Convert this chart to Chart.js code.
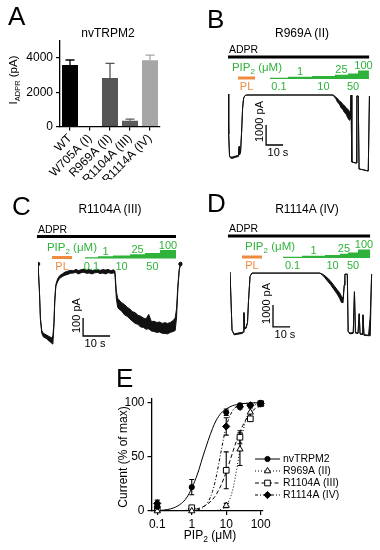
<!DOCTYPE html>
<html><head><meta charset="utf-8">
<script src="https://cdn.jsdelivr.net/npm/chart.js@4.4.0/dist/chart.umd.min.js"></script>
<style>
body{margin:0;background:#fff;width:380px;height:550px;position:relative;overflow:hidden;font-family:"Liberation Sans",Arial,sans-serif}
canvas{position:absolute}
.lt{position:absolute;font-size:26px;line-height:26px;color:#000;z-index:2}
.tt{position:absolute;font-size:12px;line-height:12px;color:#000;text-align:center;width:120px;z-index:2}
</style></head><body>
<div class="lt" style="left:8px;top:3px">A</div>
<div class="lt" style="left:207px;top:6px">B</div>
<div class="lt" style="left:12px;top:193px">C</div>
<div class="lt" style="left:207px;top:190px">D</div>
<div class="lt" style="left:116px;top:365px">E</div>
<div class="tt" style="left:48px;top:27px">nvTRPM2</div>
<div class="tt" style="left:242px;top:27px">R969A (II)</div>
<div class="tt" style="left:50px;top:203px">R1104A (III)</div>
<div class="tt" style="left:247px;top:203px">R1114A (IV)</div>
<canvas id="cA" width="190" height="180" style="left:0;top:0"></canvas>
<canvas id="cB" width="190" height="180" style="left:190px;top:0"></canvas>
<canvas id="cC" width="190" height="180" style="left:0;top:180px"></canvas>
<canvas id="cD" width="190" height="180" style="left:190px;top:180px"></canvas>
<canvas id="cE" width="320" height="190" style="left:60px;top:360px"></canvas>
<script>
// ---- panel A: ADPR current per construct ----
const mutants = ['WT', 'W705A (I)', 'R969A (II)', 'R1104A (III)', 'R1114A (IV)'];
const adprMean = [3600, 0, 2830, 330, 3880];
const adprSem = [290, 0, 860, 100, 290];

// ---- traces: time (s), current upper/lower edge of noise (pA) ----
const bTime = [0, 0.4, 0.9, 1.5, 2.5, 3.5, 4.5, 5.5, 6.2, 6.5, 6.8, 7.4, 8.0, 8.6, 9.2, 10, 11, 20, 30, 40, 50, 61.8, 62.5, 63.5, 64.5, 65.5, 66.5, 67.5, 68.5, 69.5, 70.5, 71.5, 72.0, 72.4, 72.8, 75.3, 75.8, 76.6, 77.1, 79, 82.5, 83.2];
const bHi = [0, -2000, -3100, -3150, -3150, -3130, -3100, -3080, -3060, -2620, -3000, -2850, -1900, -700, -200, -80, -50, -50, -50, -50, -50, -50, -80, -170, -230, -350, -400, -520, -580, -700, -760, -880, -1000, -60, -3400, -3450, -100, -100, -3750, -3780, -3850, -100];
const bLo = [0, -2000, -3100, -3200, -3220, -3190, -3160, -3140, -3120, -2660, -3050, -2900, -1900, -700, -200, -80, -50, -50, -50, -50, -50, -50, -140, -240, -420, -500, -690, -760, -930, -1010, -1200, -1320, -1250, -60, -3400, -3450, -100, -100, -3750, -3780, -3850, -100];

const cTime = [0, 0.5, 0.9, 1.4, 2, 2.6, 3.2, 3.8, 4.4, 5.0, 5.5, 5.9, 6.2, 6.6, 7.2, 8, 9, 10, 11,
  12, 13, 14, 15, 16, 17, 18, 19, 20, 21, 22, 23, 24, 25, 26, 27, 28, 28.5, 29, 29.5,
  30, 31, 32, 33, 34, 35, 36, 37, 38, 39, 40, 41, 42, 43, 44, 45, 46, 47, 48, 49, 50,
  50.8, 51.3, 51.8, 52.3, 52.8];
const cHi = [0, -140, -300, -370, -385, -390, -395, -400, -405, -410, -400, -330, -200, -115, -85, -65, -55, -45, -40,
  -35, -38, -30, -36, -32, -28, -35, -30, -38, -33, -29, -36, -31, -34, -30, -37, -32, -40, -150, -190,
  -200, -215, -225, -240, -250, -265, -270, -285, -290, -300, -305, -280, -320, -318, -325, -322, -330, -326, -330, -325, -315,
  -300, -250, -120, -30, 0];
const cLo = [0, -140, -310, -385, -405, -410, -415, -425, -430, -440, -445, -345, -215, -125, -100, -80, -70, -62, -58,
  -52, -50, -47, -55, -48, -46, -52, -50, -55, -49, -47, -53, -50, -55, -48, -52, -50, -55, -190, -240,
  -250, -262, -282, -290, -305, -318, -330, -335, -350, -352, -362, -360, -372, -375, -380, -378, -385, -386, -388, -380, -375,
  -370, -300, -140, -35, 0];

const dTime = [0, 0.6, 1.2, 2.4, 4.7, 7.1, 7.9, 8.2, 8.6, 9.5, 10.3, 10.9, 11.8, 12.9, 30, 52.9, 55, 57, 59, 61, 63, 64.5, 65.5, 66.5, 67.2, 67.6, 69, 69.5, 70.5, 72.5, 73.2, 73.8, 75.3, 76.0, 76.5, 77.7, 78.2, 78.8, 81.5, 82.5, 83.3];
const dHi = [0, -1300, -2650, -2820, -2780, -2750, -2700, -1850, -2550, -2500, -2300, -1300, -200, -50, -50, -50, -120, -250, -400, -600, -800, -950, -1100, -1200, -600, -100, -100, -2700, -2780, -2750, -900, -2750, -2780, -1900, -2800, -2820, -1950, -2850, -2880, -2000, -100];
const dLo = [0, -1300, -2650, -2860, -2830, -2800, -2750, -1850, -2600, -2560, -2300, -1300, -200, -50, -50, -50, -180, -380, -560, -780, -1000, -1200, -1380, -1400, -600, -100, -100, -2700, -2820, -2790, -900, -2780, -2800, -1900, -2830, -2850, -1950, -2880, -2900, -2900, -100];

// application times (s): ADPR on/off, PL on/off, PIP2 step edges
const pipSteps = ['0.1', '1', '10', '25', '50', '100'];
const bAdpr = [0, 83], bPL = [5.9, 15.9], bPip = [24.7, 35.3, 49.4, 62.9, 70.6, 76.5, 82.9];
const cAdpr = [-0.4, 51.1], cPL = [5.2, 12.6], cPip = [17.4, 22.2, 27.8, 34.1, 39.6, 45.2, 51.1];
const dAdpr = [-1.2, 82.4], dPL = [7.1, 18.8], dPip = [31.2, 42.4, 55.9, 64.7, 69.4, 75.3, 82.4];

// ---- panel E: dose response (% of max) ----
const pipConc = [0.1, 1, 10, 25, 50, 100];
const wtMean = [4, 22, 91, 97.5, 97.5, 99.5], wtSem = [2, 7, 3, 1, 1, 0.5];
const r969Mean = [0, 0, 5, 57, 91, 99], r969Sem = [0, 0, 2, 15, 4, 1];
const r1104Mean = [2, 3, 37.5, 68, 85, 99], r1104Sem = [1, 1, 17, 6, 2, 1];
const r1114Mean = [7, 2, 78, 96, 97.5, 99], r1114Sem = [3, 1, 8, 2, 1, 1];
const fitConc = [0.1, 0.15, 0.2, 0.3, 0.5, 0.7, 1, 1.5, 2, 3, 4, 5, 7, 10, 15, 20, 25, 30, 40, 50, 70, 100];
const wtFit = [0.4, 0.8, 1.4, 2.9, 7, 12, 21, 35, 48, 65, 76, 83, 90, 94, 97, 98, 98.5, 99, 99.3, 99.5, 99.7, 99.8];
const r969Fit = [0, 0, 0, 0, 0, 0, 0, 0, 0, 0, 0.2, 0.5, 1.5, 5, 18, 38, 57, 72, 87, 94, 98, 99.4];
const r1104Fit = [0, 0, 0.1, 0.2, 0.3, 0.6, 1.1, 2.2, 3.5, 6.8, 10.6, 14.6, 23.5, 36, 53, 65, 73, 78.6, 86, 90, 94.5, 96.6];
const r1114Fit = [0, 0, 0, 0, 0, 0.1, 0.3, 1.2, 2.7, 8.6, 18, 30, 54, 78, 92, 96.5, 98, 99, 99.5, 99.7, 99.9, 100];

const FONT = '"Liberation Sans", Arial, sans-serif';
const GREEN = '#2eb23a', ORANGE = '#ef8a3f';
Chart.defaults.font.family = FONT;
Chart.defaults.color = '#000';

function drawSub(ctx, parts, x, y, align) {
  let w = 0;
  parts.forEach(p => { ctx.font = p[1] + 'px ' + FONT; p.w = ctx.measureText(p[0]).width; w += p.w; });
  let cx = align === 'right' ? x - w : align === 'center' ? x - w / 2 : x;
  ctx.textAlign = 'left';
  parts.forEach(p => { ctx.font = p[1] + 'px ' + FONT; ctx.fillText(p[0], cx, y + p[2]); cx += p.w; });
}

const axisGrid = {drawOnChartArea: false, tickLength: 4, color: '#000', lineWidth: 1.2};
const axisBorder = {color: '#000', width: 1.3};

// panel A
const barColors = ['#000', '#000', '#555', '#5c5c5c', '#a6a6a6'];
new Chart(document.getElementById('cA'), {
  type: 'bar',
  data: {labels: mutants, datasets: [{data: adprMean, errors: adprSem, backgroundColor: barColors, barPercentage: 0.8, categoryPercentage: 1}]},
  options: {
    responsive: false, animation: false, events: [],
    layout: {padding: {left: 0, right: 30, top: 41, bottom: 0}},
    plugins: {legend: {display: false}, tooltip: {enabled: false}},
    scales: {
      x: {grid: Object.assign({offset: false}, axisGrid), border: axisBorder,
          ticks: {font: {size: 12}, minRotation: 45, maxRotation: 45, padding: 1, autoSkip: false},
          afterFit: s => { s.height = 53.5; }},
      y: {min: 0, max: 5000, ticks: {stepSize: 1000, font: {size: 12}, padding: 3, callback: v => String(v)},
          grid: axisGrid, border: axisBorder, afterFit: s => { s.width = 60; }}
    }
  },
  plugins: [{
    id: 'barErr',
    afterDatasetsDraw(chart) {
      const ctx = chart.ctx, ds = chart.data.datasets[0], y = chart.scales.y;
      ctx.save();
      ctx.lineWidth = 1.3;
      chart.getDatasetMeta(0).data.forEach((bar, i) => {
        if (!ds.errors[i]) return;
        const top = y.getPixelForValue(ds.data[i] + ds.errors[i]);
        ctx.strokeStyle = barColors[i];
        ctx.beginPath();
        ctx.moveTo(bar.x, bar.y); ctx.lineTo(bar.x, top);
        ctx.moveTo(bar.x - 4.5, top); ctx.lineTo(bar.x + 4.5, top);
        ctx.stroke();
      });
      // y axis title with subscript
      ctx.fillStyle = '#000';
      ctx.translate(17, 80);
      ctx.rotate(-Math.PI / 2);
      drawSub(ctx, [['I', 11.5, 0], ['ADPR', 7.5, 3], [' (pA)', 11.5, 0]], 0, 0, 'center');
      ctx.restore();
    }
  }]
});

// traces B, C, D
const STEP_H = [1.2, 2.2, 3, 4.2, 5.5, 8.5];
function stimPlugin(st) {
  return {
    id: 'stim',
    afterDraw(chart) {
      const ctx = chart.ctx, xs = chart.scales.x, ys = chart.scales.y;
      const px = t => xs.getPixelForValue(t);
      const top = st.top;
      ctx.save();
      ctx.textBaseline = 'alphabetic';
      // ADPR bar
      ctx.fillStyle = '#000';
      ctx.fillRect(px(st.adpr[0]), top - 1.5, px(st.adpr[1]) - px(st.adpr[0]), 3);
      ctx.font = '10.5px ' + FONT; ctx.textAlign = 'left';
      ctx.fillText('ADPR', px(st.adpr[0]) + 1, top - 4);
      // PL bar
      ctx.fillStyle = ORANGE;
      ctx.fillRect(px(st.pl[0]), top + 19.5, px(st.pl[1]) - px(st.pl[0]), 3);
      ctx.font = '11px ' + FONT; ctx.textAlign = 'center';
      ctx.fillText('PL', (px(st.pl[0]) + px(st.pl[1])) / 2, top + 33);
      // PIP2 staircase
      const base = top + 22, p = st.pip;
      ctx.fillStyle = GREEN;
      ctx.beginPath();
      ctx.moveTo(px(p[0]), base);
      for (let k = 0; k < pipSteps.length; k++) {
        ctx.lineTo(px(p[k]), base - STEP_H[k]);
        ctx.lineTo(px(p[k + 1]), base - STEP_H[k]);
      }
      ctx.lineTo(px(p[p.length - 1]), base);
      ctx.closePath(); ctx.fill();
      ctx.font = '11px ' + FONT; ctx.textAlign = 'center';
      pipSteps.forEach((c, k) => {
        const mid = (px(p[k]) + px(p[k + 1])) / 2;
        if (k % 2 === 0) ctx.fillText(c, mid, top + 33);
        else ctx.fillText(c, mid, base - STEP_H[k] - 1.5);
      });
      drawSub(ctx, [['PIP', 11.5, 0], ['2', 8, 3], [' (μM)', 11.5, 0]], px(p[0]) + 12, top + 14, 'right');
      // scale bar
      const sb = st.bar;
      const x0 = px(sb.t), y0 = ys.getPixelForValue(sb.i);
      const y1 = ys.getPixelForValue(sb.i + sb.di), x1 = px(sb.t + sb.dt);
      ctx.strokeStyle = '#000'; ctx.lineWidth = 1.3;
      ctx.beginPath(); ctx.moveTo(x0, y1); ctx.lineTo(x0, y0); ctx.lineTo(x1, y0); ctx.stroke();
      ctx.fillStyle = '#000'; ctx.font = '11px ' + FONT; ctx.textAlign = 'left';
      ctx.fillText(sb.dt + ' s', x0 + 1.5, y0 + 11);
      ctx.translate(x0 - 3.5, y0 - 3);
      ctx.rotate(-Math.PI / 2);
      ctx.fillText(sb.di + ' pA', 0, 0);
      ctx.restore();
    }
  };
}

function traceChart(id, time, hi, lo, xr, yr, pad, st, dots) {
  const n = time.length;
  return new Chart(document.getElementById(id), {
    type: 'line',
    data: {datasets: [
      {data: time.map((t, i) => ({x: t, y: hi[i]})), borderColor: '#111', backgroundColor: '#111', borderWidth: 1,
       pointRadius: c => (dots && (c.dataIndex === 0 || c.dataIndex === n - 1)) ? 1.8 : 0,
       pointBackgroundColor: '#111', fill: '+1', tension: 0},
      {data: time.map((t, i) => ({x: t, y: lo[i]})), borderColor: '#111', borderWidth: 1, pointRadius: 0, fill: false, tension: 0}
    ]},
    options: {
      responsive: false, animation: false, events: [],
      layout: {padding: pad},
      plugins: {legend: {display: false}, tooltip: {enabled: false}},
      scales: {x: {type: 'linear', display: false, min: xr[0], max: xr[1]},
               y: {display: false, min: yr[0], max: yr[1]}}
    },
    plugins: [stimPlugin(st)]
  });
}

traceChart('cB', bTime, bHi, bLo, [0, 84], [-4000, 200], {left: 38, right: 9.2, top: 90, bottom: 6},
  {top: 57, adpr: bAdpr, pl: bPL, pip: bPip, bar: {t: 22.4, i: -2550, dt: 10, di: 1000}}, false);
traceChart('cC', cTime, cHi, cLo, [0, 53.5], [-460, 20], {left: 38, right: 7.55, top: 80.4, bottom: 13.2},
  {top: 56.5, adpr: cAdpr, pl: cPL, pip: cPip, bar: {t: 16.7, i: -400, dt: 10, di: 100}}, true);
traceChart('cD', dTime, dHi, dLo, [0, 84], [-3100, 100], {left: 40, right: 7.2, top: 89.8, bottom: 19.9},
  {top: 56, adpr: dAdpr, pl: dPL, pip: dPip, bar: {t: 25.3, i: -2500, dt: 10, di: 1000}}, false);

// panel E
const seriesE = [
  {label: 'nvTRPM2', mean: wtMean, sem: wtSem, fit: wtFit, dash: [], style: 'circle', r: 2.6, fill: '#000'},
  {label: 'R969A (II)', mean: r969Mean, sem: r969Sem, fit: r969Fit, dash: [1, 2], style: 'triangle', r: 3.6, fill: '#fff'},
  {label: 'R1104A (III)', mean: r1104Mean, sem: r1104Sem, fit: r1104Fit, dash: [4, 2.5], style: 'rect', r: 4, fill: '#fff'},
  {label: 'R1114A (IV)', mean: r1114Mean, sem: r1114Sem, fit: r1114Fit, dash: [3, 2, 1, 2], style: 'rectRot', r: 3.6, fill: '#000'}
];
const dsE = [];
seriesE.forEach(s => {
  dsE.push({data: pipConc.map((c, i) => ({x: c, y: s.mean[i]})), errors: s.sem, showLine: false, order: 0,
    pointStyle: s.style, pointRadius: s.r, pointBackgroundColor: s.fill, pointBorderColor: '#000', pointBorderWidth: 1, clip: false});
  dsE.push({data: fitConc.map((c, i) => ({x: c, y: s.fit[i]})), borderColor: '#000', borderWidth: 1, borderDash: s.dash,
    pointRadius: 0, cubicInterpolationMode: 'monotone', order: 1});
});
new Chart(document.getElementById('cE'), {
  type: 'line',
  data: {datasets: dsE},
  options: {
    responsive: false, animation: false, events: [],
    layout: {padding: {left: 0, right: 117.2, top: 38.2, bottom: 0}},
    plugins: {legend: {display: false}, tooltip: {enabled: false}},
    scales: {
      x: {type: 'logarithmic', min: 0.068, max: 115,
          afterBuildTicks: s => { s.ticks = [0.1, 1, 10, 100].map(v => ({value: v})); },
          ticks: {callback: v => String(v), font: {size: 12}, padding: 2, maxRotation: 0, autoSkip: false},
          grid: axisGrid, border: axisBorder, afterFit: s => { s.height = 39; }},
      y: {min: 0, max: 104,
          afterBuildTicks: s => { s.ticks = [0, 50, 100].map(v => ({value: v})); },
          ticks: {font: {size: 12}, padding: 3},
          grid: axisGrid, border: axisBorder, afterFit: s => { s.width = 91.5; }}
    }
  },
  plugins: [{
    id: 'errE',
    beforeDatasetsDraw(chart) {
      const ctx = chart.ctx, ys = chart.scales.y;
      ctx.save(); ctx.strokeStyle = '#000'; ctx.lineWidth = 1.1;
      chart.data.datasets.forEach((ds, di) => {
        if (!ds.errors) return;
        chart.getDatasetMeta(di).data.forEach((p, i) => {
          const e = ds.errors[i]; if (!e) return;
          const v = ds.data[i].y;
          const t = ys.getPixelForValue(v + e), b = ys.getPixelForValue(v - e);
          ctx.beginPath();
          ctx.moveTo(p.x, t); ctx.lineTo(p.x, b);
          ctx.moveTo(p.x - 2.5, t); ctx.lineTo(p.x + 2.5, t);
          ctx.moveTo(p.x - 2.5, b); ctx.lineTo(p.x + 2.5, b);
          ctx.stroke();
        });
      });
      ctx.restore();
    },
    afterDraw(chart) {
      const ctx = chart.ctx;
      ctx.save();
      ctx.fillStyle = '#000';
      drawSub(ctx, [['PIP', 12, 0], ['2', 8.5, 3], [' (μM)', 12, 0]], 150, 179, 'center');
      seriesE.forEach((s, i) => {
        const y = 99 + i * 12;
        ctx.strokeStyle = '#000'; ctx.lineWidth = 1;
        ctx.setLineDash(s.dash);
        ctx.beginPath(); ctx.moveTo(195, y); ctx.lineTo(220, y); ctx.stroke();
        ctx.setLineDash([]);
        ctx.fillStyle = s.fill;
        Chart.helpers.drawPoint(ctx, {pointStyle: s.style, radius: s.r, rotation: 0, borderWidth: 1}, 207.5, y);
        ctx.fillStyle = '#000'; ctx.font = '10.5px ' + FONT; ctx.textAlign = 'left'; ctx.textBaseline = 'middle';
        ctx.fillText(s.label, 223, y + 0.5);
      });
      ctx.textBaseline = 'alphabetic';
      ctx.font = '12px ' + FONT; ctx.textAlign = 'center';
      ctx.translate(66.5, 97);
      ctx.rotate(-Math.PI / 2);
      ctx.fillText('Current (% of max)', 0, 0);
      ctx.restore();
    }
  }]
});
</script>
</body></html>
